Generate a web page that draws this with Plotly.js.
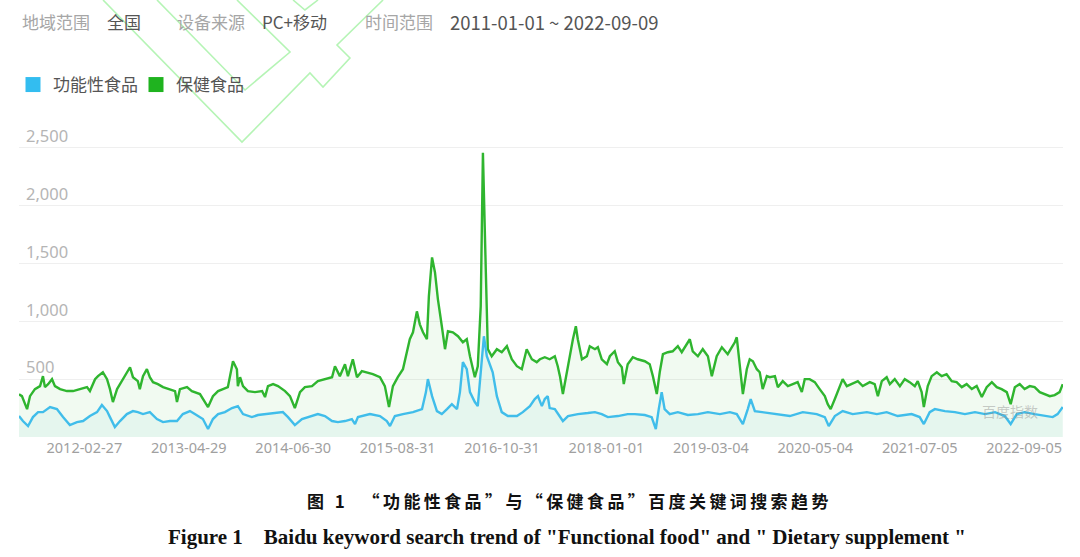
<!DOCTYPE html>
<html>
<head>
<meta charset="utf-8">
<script src="https://cdn.plot.ly/plotly-3.0.1.min.js"></script>
<style>html,body{margin:0;padding:0;background:#fff;}#chart{width:1080px;height:557px;}</style>
</head>
<body>
<div id="chart"></div>
<script>
const seriesNames = ["功能性食品", "保健食品"];

const dietaryDates = ["2011-01-01","2011-01-13","2011-02-03","2011-02-15","2011-03-07","2011-03-28","2011-04-09","2011-04-17","2011-04-30","2011-05-16","2011-05-28","2011-06-18","2011-07-16","2011-08-10","2011-09-07","2011-10-06","2011-10-18","2011-11-08","2011-11-20","2011-12-10","2011-12-27",
"2012-01-08","2012-01-20","2012-02-06","2012-02-18","2012-03-09","2012-03-30","2012-04-11","2012-05-01","2012-05-09","2012-05-22","2012-06-07","2012-06-19","2012-07-02","2012-07-22","2012-08-12","2012-09-09","2012-09-30","2012-10-08","2012-10-20","2012-11-18","2012-12-08",
"2013-01-10","2013-02-12","2013-03-04","2013-03-25","2013-04-14","2013-05-04","2013-05-25","2013-06-10","2013-06-14","2013-06-23","2013-07-05","2013-07-25","2013-08-23","2013-09-21","2013-10-03","2013-10-15","2013-11-05","2013-11-25","2013-12-24",
"2014-01-13","2014-02-02","2014-02-23","2014-03-15","2014-04-13","2014-05-07","2014-06-05","2014-07-04","2014-07-16","2014-08-05","2014-08-26","2014-09-07","2014-09-27","2014-10-14","2014-11-03","2014-11-24","2014-12-18",
"2015-01-16","2015-02-05","2015-02-22","2015-03-10","2015-03-30","2015-04-20","2015-05-18","2015-05-31","2015-06-16","2015-06-28","2015-07-11","2015-07-27","2015-08-04","2015-08-17","2015-08-29","2015-09-10","2015-09-26","2015-10-09","2015-10-21","2015-11-10","2015-12-01","2015-12-21",
"2016-01-06","2016-01-19","2016-02-08","2016-02-20","2016-03-03","2016-03-12","2016-03-24","2016-04-01","2016-04-17","2016-05-08","2016-05-28","2016-06-18","2016-07-08","2016-07-29","2016-08-18","2016-09-07","2016-09-28","2016-10-18","2016-10-31","2016-11-20","2016-12-10","2016-12-31",
"2017-01-12","2017-01-21","2017-02-02","2017-02-18","2017-03-03","2017-03-15","2017-03-27","2017-04-04","2017-04-21","2017-05-11","2017-05-23","2017-06-13","2017-06-25","2017-07-11","2017-08-01","2017-08-13","2017-09-02","2017-09-15","2017-10-01","2017-10-09","2017-10-25","2017-11-15","2017-12-05",
"2018-01-03","2018-01-23","2018-02-05","2018-02-21","2018-03-05","2018-03-18","2018-04-07","2018-04-27","2018-05-18","2018-06-03","2018-06-16","2018-07-06","2018-07-18","2018-08-08","2018-08-28","2018-09-18","2018-10-04","2018-10-16","2018-10-24","2018-11-14","2018-11-26","2018-12-08","2018-12-25",
"2019-01-06","2019-01-14","2019-01-26","2019-02-08","2019-02-24","2019-03-08","2019-03-21","2019-04-06","2019-04-18","2019-04-30","2019-05-17","2019-05-29","2019-06-19","2019-07-01","2019-07-21","2019-08-11","2019-08-31","2019-09-20","2019-10-07","2019-10-19","2019-11-08","2019-11-29","2019-12-19",
"2020-01-09","2020-01-21","2020-02-02","2020-02-19","2020-03-10","2020-03-22","2020-04-08","2020-04-28","2020-05-23","2020-06-12","2020-07-11","2020-07-31","2020-08-13","2020-08-29","2020-09-18","2020-10-01","2020-10-21","2020-11-11","2020-12-01","2020-12-21",
"2021-01-11","2021-01-23","2021-02-08","2021-02-17","2021-03-05","2021-03-21","2021-04-11","2021-05-01","2021-05-21","2021-06-11","2021-07-01","2021-07-22","2021-08-11","2021-09-01","2021-09-21","2021-10-12","2021-11-01","2021-11-22","2021-12-12",
"2022-01-01","2022-01-22","2022-02-07","2022-02-24","2022-03-16","2022-04-05","2022-04-26","2022-05-16","2022-06-06","2022-06-26","2022-07-17","2022-08-06","2022-08-26","2022-09-08"];

const dietaryValues = [370,353,241,353,414,440,526,431,457,500,440,414,397,397,414,431,397,500,526,560,500,
414,302,414,457,526,603,517,483,414,526,586,517,474,457,431,414,397,302,414,431,397,
371,259,353,397,414,431,655,586,440,517,440,397,388,397,345,440,457,440,397,
353,250,388,431,440,483,500,517,612,526,629,526,672,517,569,560,543,
517,440,259,440,517,586,845,905,1086,974,905,845,1216,1552,1422,1190,957,759,914,905,871,819,
845,698,517,612,1129,2457,1422,759,698,759,733,785,672,612,586,759,672,647,672,690,672,698,
612,526,371,560,733,845,957,845,672,698,785,759,776,672,629,698,741,647,603,457,629,690,672,
655,629,526,371,560,716,733,741,785,733,776,845,741,698,759,698,526,647,698,776,741,716,776,
819,862,612,371,586,672,655,586,560,414,526,517,526,431,483,440,457,474,388,500,500,474,414,
353,284,241,328,431,500,440,457,483,440,474,457,353,483,517,457,500,440,500,474,
440,483,388,259,440,526,560,526,543,483,474,431,457,414,440,345,431,474,431,
414,388,284,431,457,414,440,431,388,371,353,362,388,457];

const functionalDates = ["2011-01-01","2011-01-17","2011-02-07","2011-02-27","2011-03-20","2011-04-09","2011-05-08","2011-06-05","2011-06-30","2011-07-28","2011-08-26","2011-09-20","2011-10-18","2011-11-16","2011-12-06","2011-12-27",
"2012-01-08","2012-01-28","2012-02-18","2012-03-17","2012-04-11","2012-05-01","2012-05-22","2012-06-19","2012-07-18","2012-08-12","2012-09-09","2012-10-08","2012-11-01","2012-11-30","2012-12-20",
"2013-01-22","2013-02-12","2013-03-04","2013-03-25","2013-04-22","2013-05-21","2013-06-14","2013-07-05","2013-08-10","2013-09-04","2013-10-15","2013-11-25","2013-12-15",
"2014-01-05","2014-02-02","2014-03-03","2014-03-27","2014-05-07","2014-06-05","2014-07-04","2014-07-28","2014-08-26","2014-09-23","2014-10-06","2014-10-18","2014-11-16","2014-12-06",
"2015-01-16","2015-02-13","2015-02-26","2015-03-18","2015-04-20","2015-05-31","2015-07-07","2015-07-23","2015-07-31","2015-08-17","2015-09-06","2015-09-26","2015-10-17","2015-11-06","2015-11-27","2015-12-09","2015-12-21",
"2016-01-06","2016-01-19","2016-02-08","2016-02-20","2016-03-03","2016-03-16","2016-03-28","2016-04-13","2016-04-21","2016-05-08","2016-05-28","2016-06-22","2016-07-29","2016-08-22","2016-09-20","2016-10-10","2016-10-23","2016-11-08","2016-11-20","2016-12-02","2016-12-10","2016-12-31",
"2017-01-21","2017-02-02","2017-02-23","2017-04-04","2017-05-15","2017-06-13","2017-07-11","2017-08-05","2017-09-15","2017-10-25","2017-11-23",
"2018-01-03","2018-01-31","2018-02-17","2018-03-01","2018-03-13","2018-03-25","2018-04-15","2018-05-18","2018-06-28","2018-08-08","2018-09-18","2018-11-06","2018-12-17",
"2019-01-14","2019-02-08","2019-02-28","2019-03-12","2019-03-29","2019-04-30","2019-06-27","2019-08-19","2019-10-11","2019-12-07",
"2020-01-09","2020-01-25","2020-02-19","2020-03-22","2020-05-02","2020-06-29","2020-08-09","2020-09-18","2020-11-02","2020-12-29",
"2021-01-31","2021-02-17","2021-03-13","2021-04-03","2021-05-14","2021-06-24","2021-08-04","2021-09-14","2021-10-25","2021-12-05",
"2022-01-14","2022-02-07","2022-03-04","2022-04-05","2022-05-16","2022-06-26","2022-07-29","2022-08-18","2022-09-08"];

const functionalValues = [181,138,95,172,215,215,259,241,172,103,129,138,181,215,276,224,
172,86,138,198,224,215,198,215,155,129,138,138,198,224,198,
155,69,155,198,215,250,267,198,172,190,198,207,215,
172,103,155,172,198,181,138,129,138,155,112,172,190,198,
181,138,95,181,198,215,241,388,500,353,224,198,241,284,241,388,647,
586,388,302,267,560,871,698,612,560,353,215,181,181,215,267,328,353,267,328,353,250,241,
181,138,181,198,207,215,198,172,181,198,198,
190,172,69,241,388,241,198,215,190,198,215,198,215,
198,112,241,328,224,215,198,181,215,198,
172,95,181,224,198,215,198,215,181,198,
172,112,215,241,224,215,198,215,198,215,
181,112,198,215,198,181,172,198,259];

const xTickDates = ["2012-02-27","2013-04-29","2014-06-30","2015-08-31","2016-10-31","2018-01-01","2019-03-04","2020-05-04","2021-07-05","2022-09-05"];
const yTickValues = [500, 1000, 1500, 2000, 2500];
const dateRange = ["2011-01-01", "2022-09-09"];

const headerLabels = ["地域范围", "设备来源", "时间范围"];
const headerValues = ["全国", "PC+移动", "2011-01-01 ~ 2022-09-09"];
const captionCN = "图 1  “功能性食品”与“保健食品”百度关键词搜索趋势";
const captionEN = "Figure 1    Baidu keyword search trend of \"Functional food\" and \" Dietary supplement \"";

// ---- Styles ----
const GREEN = "#2fb52f";
const BLUE = "#40bdea";
const CJK = "'Noto Sans CJK SC', 'Noto Sans', sans-serif";

const traces = [
  {
    x: dietaryDates, y: dietaryValues, type: "scatter", mode: "lines",
    name: seriesNames[1], showlegend: false,
    line: {color: GREEN, width: 2.4},
    fill: "tozeroy", fillcolor: "rgba(60,185,60,0.07)"
  },
  {
    x: functionalDates, y: functionalValues, type: "scatter", mode: "lines",
    name: seriesNames[0], showlegend: false,
    line: {color: BLUE, width: 2.4},
    fill: "tozeroy", fillcolor: "rgba(70,200,200,0.07)"
  },
  // legend entries (square swatches)
  {x: [null], y: [null], type: "scatter", mode: "markers", name: seriesNames[0],
   marker: {symbol: "square", size: 15, color: "#33bdf0"}},
  {x: [null], y: [null], type: "scatter", mode: "markers", name: seriesNames[1],
   marker: {symbol: "square", size: 15, color: "#1fb31f"}}
];

// plot area in pixels: left 19, right 1063, top 142, bottom 437
const PL = 19, PR = 1063, PT = 142, PB = 437;
const px = v => (v - PL) / (PR - PL);
const py = v => (PB - v) / (PB - PT);
// letter-spaced caption (thin spaces between characters)
const spaced = s => Array.from(s).join("\u2009");

const annotations = [];
const headerLabelX = [20, 175, 363];
const headerValueX = [105, 260, 448];
const headerValueSize = [17, 17, 18.5];
headerLabels.forEach((t, i) => annotations.push({
  text: t, xref: "paper", yref: "paper", x: px(headerLabelX[i]), y: py(22),
  xanchor: "left", yanchor: "middle", showarrow: false,
  font: {family: CJK, size: 17, color: "#a6a6a6"}
}));
headerValues.forEach((t, i) => annotations.push({
  text: t, xref: "paper", yref: "paper", x: px(headerValueX[i]), y: py(22),
  xanchor: "left", yanchor: "middle", showarrow: false,
  font: {family: CJK, size: headerValueSize[i], color: "#555555"}
}));
annotations.push({
  text: "百度指数", xref: "paper", yref: "paper", x: px(1010), y: py(411),
  xanchor: "center", yanchor: "middle", showarrow: false,
  font: {family: CJK, size: 14, color: "rgba(140,140,140,0.45)"}
});
annotations.push({
  text: "<b>" + spaced(captionCN) + "</b>", xref: "paper", yref: "paper", x: px(567), y: py(500),
  xanchor: "center", yanchor: "middle", showarrow: false,
  font: {family: "'Noto Sans CJK SC', sans-serif", size: 17, color: "#111111"}
});
annotations.push({
  text: "<b>" + captionEN + "</b>", xref: "paper", yref: "paper", x: px(567), y: py(537),
  xanchor: "center", yanchor: "middle", showarrow: false,
  font: {family: "'Liberation Serif', 'Times New Roman', serif", size: 21, color: "#111111"}
});

// faint watermark outline (decoration)
const wm = "rgba(120,235,120,0.55)";
const pathOf = pts => "M" + pts.map(p => px(p[0]).toFixed(4) + "," + py(p[1]).toFixed(4)).join(" L");
const shapes = [
  {type: "path", xref: "paper", yref: "paper", layer: "above",
   path: pathOf([[103,0],[242,142],[310,73],[323,87],[350,58],[337,45],[383,0]]),
   line: {color: wm, width: 1.6}},
  {type: "path", xref: "paper", yref: "paper", layer: "above",
   path: pathOf([[157,0],[245,90],[290,52],[237,0]]),
   line: {color: wm, width: 1.6}},
  {type: "path", xref: "paper", yref: "paper", layer: "above",
   path: pathOf([[293,0],[305,10],[318,0]]),
   line: {color: wm, width: 1.6}}
];

const layout = {
  width: 1080, height: 557,
  margin: {l: PL, r: 1080 - PR, t: PT, b: 557 - PB, pad: 0},
  paper_bgcolor: "#ffffff", plot_bgcolor: "#ffffff",
  font: {family: CJK, color: "#666"},
  showlegend: true,
  legend: {
    orientation: "h", x: px(13), xanchor: "left", y: py(85), yanchor: "middle",
    font: {family: CJK, size: 17, color: "#555555"},
    bgcolor: "rgba(0,0,0,0)", borderwidth: 0, itemclick: false,
    entrywidth: 78, entrywidthmode: "pixels", tracegroupgap: 0
  },
  xaxis: {
    type: "date", range: dateRange,
    tickmode: "array", tickvals: xTickDates, ticktext: xTickDates,
    ticklabelposition: "outside left", ticks: "", showgrid: false,
    showline: false, zeroline: false,
    tickfont: {family: "'Noto Sans', sans-serif", size: 14.5, color: "#a0a0a0"}
  },
  yaxis: {
    range: [0, 2550], tickmode: "array", tickvals: yTickValues, tickformat: ",d",
    ticklabelposition: "inside top", ticklabeloverflow: "allow", ticklabelstandoff: 4,
    ticks: "", showgrid: true, gridcolor: "#efefef", gridwidth: 1,
    showline: false, zeroline: false,
    tickfont: {family: "'Noto Sans', sans-serif", size: 16.5, color: "#b5b5b5"}
  },
  annotations: annotations,
  shapes: shapes
};

Plotly.newPlot("chart", traces, layout, {displayModeBar: false, staticPlot: true});
</script>
</body>
</html>
